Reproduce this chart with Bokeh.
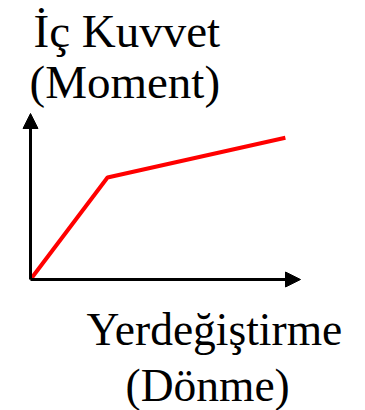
from bokeh.plotting import figure
from bokeh.models import Range1d, Arrow, NormalHead, Label
from bokeh.embed import file_html
from bokeh.resources import INLINE

# Schematic moment-rotation data (bilinear)
displacement = [0.0, 1.0, 3.31]
moment = [0.0, 1.0, 1.39]

y_title_lines = ["İç Kuvvet", "(Moment)"]
x_title_lines = ["Yerdeğiştirme", "(Dönme)"]

W, H = 365, 410
PX_X, PX_Y = 77.0, 102.0      # pixels per data unit
OX, OY = 30.0, 131.0          # origin position in frame pixels (from left / bottom)

p = figure(width=W, height=H, output_backend="svg", toolbar_location=None,
           x_range=Range1d(-OX / PX_X, (W - OX) / PX_X),
           y_range=Range1d(-OY / PX_Y, (H - OY) / PX_Y),
           min_border=0, outline_line_color=None)
p.axis.visible = False
p.grid.visible = False
p.background_fill_color = "white"
p.border_fill_color = "white"

x_tip = 270.0 / PX_X
y_tip = 166.0 / PX_Y
for (xe, ye) in [(x_tip, 0.0), (0.0, y_tip)]:
    p.add_layout(Arrow(end=NormalHead(size=15, fill_color="black", line_color="black", line_width=1),
                       x_start=0, y_start=0, x_end=xe, y_end=ye,
                       line_color="black", line_width=3))

p.line(displacement, moment, line_color="#ff0000", line_width=4)

font = "Liberation Serif"
labels = [
    (y_title_lines[0], 33, 380, "47px"),
    (y_title_lines[1], 29, 329, "47px"),
    (x_title_lines[0], 86, 81, "45.5px"),
    (x_title_lines[1], 125, 25, "45.5px"),
]
for txt, x, y, fs in labels:
    p.add_layout(Label(x=x, y=y, x_units="screen", y_units="screen", text=txt,
                       text_font=font, text_font_size=fs, text_color="black",
                       text_baseline="alphabetic", text_align="left"))

open("out.html", "w").write(file_html(p, INLINE))
